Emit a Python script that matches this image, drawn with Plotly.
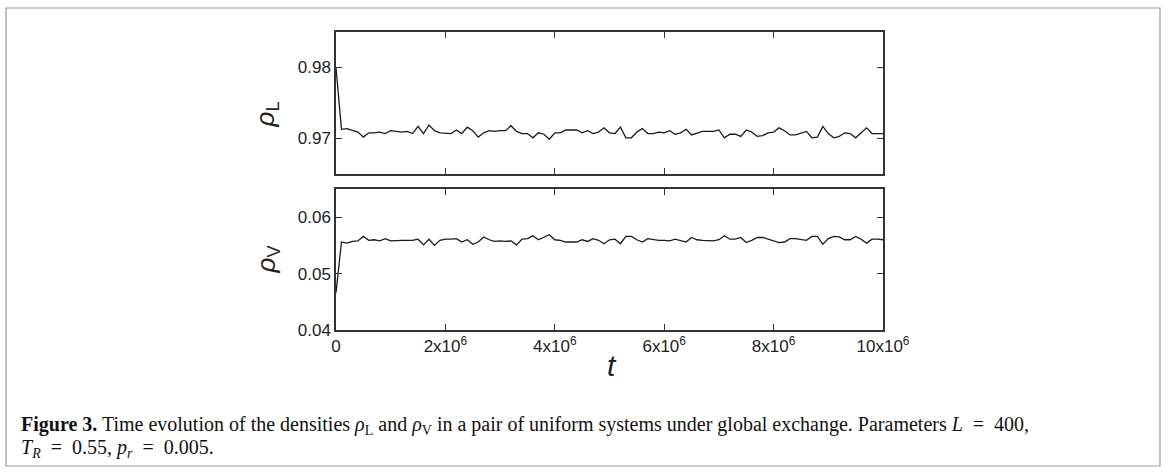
import plotly.graph_objects as go

# time axis: samples every 1e5 from 0 to 1e7
t = [k * 1e5 for k in range(101)]

rho_L = [
    0.9800, 0.9713, 0.9714, 0.9711, 0.9709, 0.9702, 0.9708, 0.9708, 0.9709, 0.9707,
    0.9711, 0.9710, 0.9709, 0.9710, 0.9707, 0.9717, 0.9707, 0.9719, 0.9711, 0.9708,
    0.9708, 0.9707, 0.9712, 0.9707, 0.9716, 0.9711, 0.9702, 0.9708, 0.9711, 0.9710,
    0.9711, 0.9711, 0.9718, 0.9710, 0.9707, 0.9707, 0.9701, 0.9708, 0.9706, 0.9699,
    0.9708, 0.9708, 0.9712, 0.9712, 0.9712, 0.9708, 0.9711, 0.9707, 0.9709, 0.9715,
    0.9708, 0.9707, 0.9716, 0.9701, 0.9701, 0.9709, 0.9714, 0.9707, 0.9707, 0.9709,
    0.9708, 0.9711, 0.9706, 0.9708, 0.9713, 0.9705, 0.9708, 0.9710, 0.9710, 0.9710,
    0.9712, 0.9701, 0.9706, 0.9706, 0.9703, 0.9712, 0.9709, 0.9703, 0.9704, 0.9708,
    0.9709, 0.9715, 0.9711, 0.9705, 0.9705, 0.9707, 0.9710, 0.9701, 0.9702, 0.9717,
    0.9707, 0.9701, 0.9703, 0.9708, 0.9707, 0.9701, 0.9708, 0.9715, 0.9707, 0.9707,
    0.9707,
]

rho_V = [
    0.0466, 0.0556, 0.0554, 0.0557, 0.0558, 0.0566, 0.0559, 0.0560, 0.0558, 0.0562,
    0.0558, 0.0559, 0.0559, 0.0559, 0.0559, 0.0561, 0.0551, 0.0561, 0.0550, 0.0559,
    0.0561, 0.0561, 0.0562, 0.0556, 0.0560, 0.0552, 0.0556, 0.0565, 0.0560, 0.0557,
    0.0558, 0.0557, 0.0558, 0.0551, 0.0561, 0.0562, 0.0567, 0.0560, 0.0564, 0.0569,
    0.0560, 0.0559, 0.0556, 0.0556, 0.0556, 0.0560, 0.0557, 0.0562, 0.0559, 0.0553,
    0.0560, 0.0561, 0.0553, 0.0566, 0.0566, 0.0560, 0.0556, 0.0562, 0.0560, 0.0559,
    0.0559, 0.0558, 0.0561, 0.0559, 0.0556, 0.0564, 0.0560, 0.0559, 0.0559, 0.0558,
    0.0560, 0.0567, 0.0561, 0.0561, 0.0564, 0.0555, 0.0559, 0.0564, 0.0564, 0.0561,
    0.0559, 0.0555, 0.0556, 0.0562, 0.0562, 0.0561, 0.0559, 0.0566, 0.0566, 0.0552,
    0.0562, 0.0566, 0.0565, 0.0560, 0.0560, 0.0566, 0.0561, 0.0554, 0.0561, 0.0561,
    0.0560,
]

x_tickvals = [0, 2e6, 4e6, 6e6, 8e6, 10e6]
x_ticktext = ["0", "2x10<sup>6</sup>", "4x10<sup>6</sup>", "6x10<sup>6</sup>",
              "8x10<sup>6</sup>", "10x10<sup>6</sup>"]
yL_tickvals = [0.97, 0.98]
yL_ticktext = ["0.97", "0.98"]
yV_tickvals = [0.04, 0.05, 0.06]
yV_ticktext = ["0.04", "0.05", "0.06"]

W, H = 1168, 474
def px(x):
    return x / W
def py(y):
    return (H - y) / H

fig = go.Figure()
fig.add_trace(go.Scatter(x=t, y=rho_L, mode="lines", line=dict(color="#1a1a1a", width=1.3),
                         xaxis="x", yaxis="y", showlegend=False, hoverinfo="skip"))
fig.add_trace(go.Scatter(x=t, y=rho_V, mode="lines", line=dict(color="#1a1a1a", width=1.3),
                         xaxis="x2", yaxis="y2", showlegend=False, hoverinfo="skip"))

tickfont = dict(family="Liberation Sans, Arial, sans-serif", size=17, color="#222")
axline = dict(showline=True, linecolor="#333", linewidth=1.5, mirror="allticks",
              ticks="inside", ticklen=6, tickwidth=1.3, tickcolor="#333",
              showgrid=False, zeroline=False, tickfont=tickfont, automargin=False)

xdom = [px(336), px(883)]
fig.update_layout(
    template="none",
    width=W, height=H,
    margin=dict(l=0, r=0, t=0, b=0, autoexpand=False),
    paper_bgcolor="white", plot_bgcolor="white",
    xaxis=dict(domain=xdom, range=[0, 1e7], tickvals=x_tickvals, showticklabels=False,
               anchor="y", **axline),
    yaxis=dict(domain=[py(174), py(32)], range=[0.965, 0.985], tickvals=yL_tickvals,
               ticktext=yL_ticktext, anchor="x", **axline),
    xaxis2=dict(domain=xdom, range=[0, 1e7], tickvals=x_tickvals, ticktext=x_ticktext,
                anchor="y2", **axline),
    yaxis2=dict(domain=[py(330), py(189)], range=[0.04, 0.065], tickvals=yV_tickvals,
                ticktext=yV_ticktext, anchor="x2", **axline),
)

# axis titles
fig.add_annotation(x=px(248), y=py(100), xref="paper", yref="paper", showarrow=False,
                   text="<i>ρ</i><sub>L</sub>", textangle=-90,
                   font=dict(family="Liberation Sans, Arial, sans-serif", size=26, color="#222"))
fig.add_annotation(x=px(248), y=py(259), xref="paper", yref="paper", showarrow=False,
                   text="<i>ρ</i><sub>V</sub>", textangle=-90,
                   font=dict(family="Liberation Sans, Arial, sans-serif", size=26, color="#222"))
fig.add_annotation(x=px(612), y=py(384), xref="paper", yref="paper", showarrow=False,
                   text="<i>t</i>",
                   font=dict(family="Liberation Sans, Arial, sans-serif", size=30, color="#222"))

# caption (two lines)
caption1 = ("<b>Figure 3.</b> Time evolution of the densities <i>ρ</i><sub>L</sub> and "
            "<i>ρ</i><sub>V</sub> in a pair of uniform systems under global exchange. "
            "Parameters <i>L</i>  =  400,")
caption2 = "<i>T<sub>R</sub></i>  =  0.55, <i>p<sub>r</sub></i>  =  0.005."
capfont = dict(family="Liberation Serif, Times New Roman, serif", size=20, color="#111")
fig.add_annotation(x=px(19), y=py(425), xref="paper", yref="paper", showarrow=False,
                   xanchor="left", yanchor="middle", align="left", text=caption1, font=capfont)
fig.add_annotation(x=px(19), y=py(448), xref="paper", yref="paper", showarrow=False,
                   xanchor="left", yanchor="middle", align="left", text=caption2, font=capfont)

# outer frame
fig.add_shape(type="rect", xref="paper", yref="paper",
              x0=px(6), x1=px(1160), y0=py(466), y1=py(8),
              line=dict(color="#999", width=1.2))

fig.write_html("out.html")
